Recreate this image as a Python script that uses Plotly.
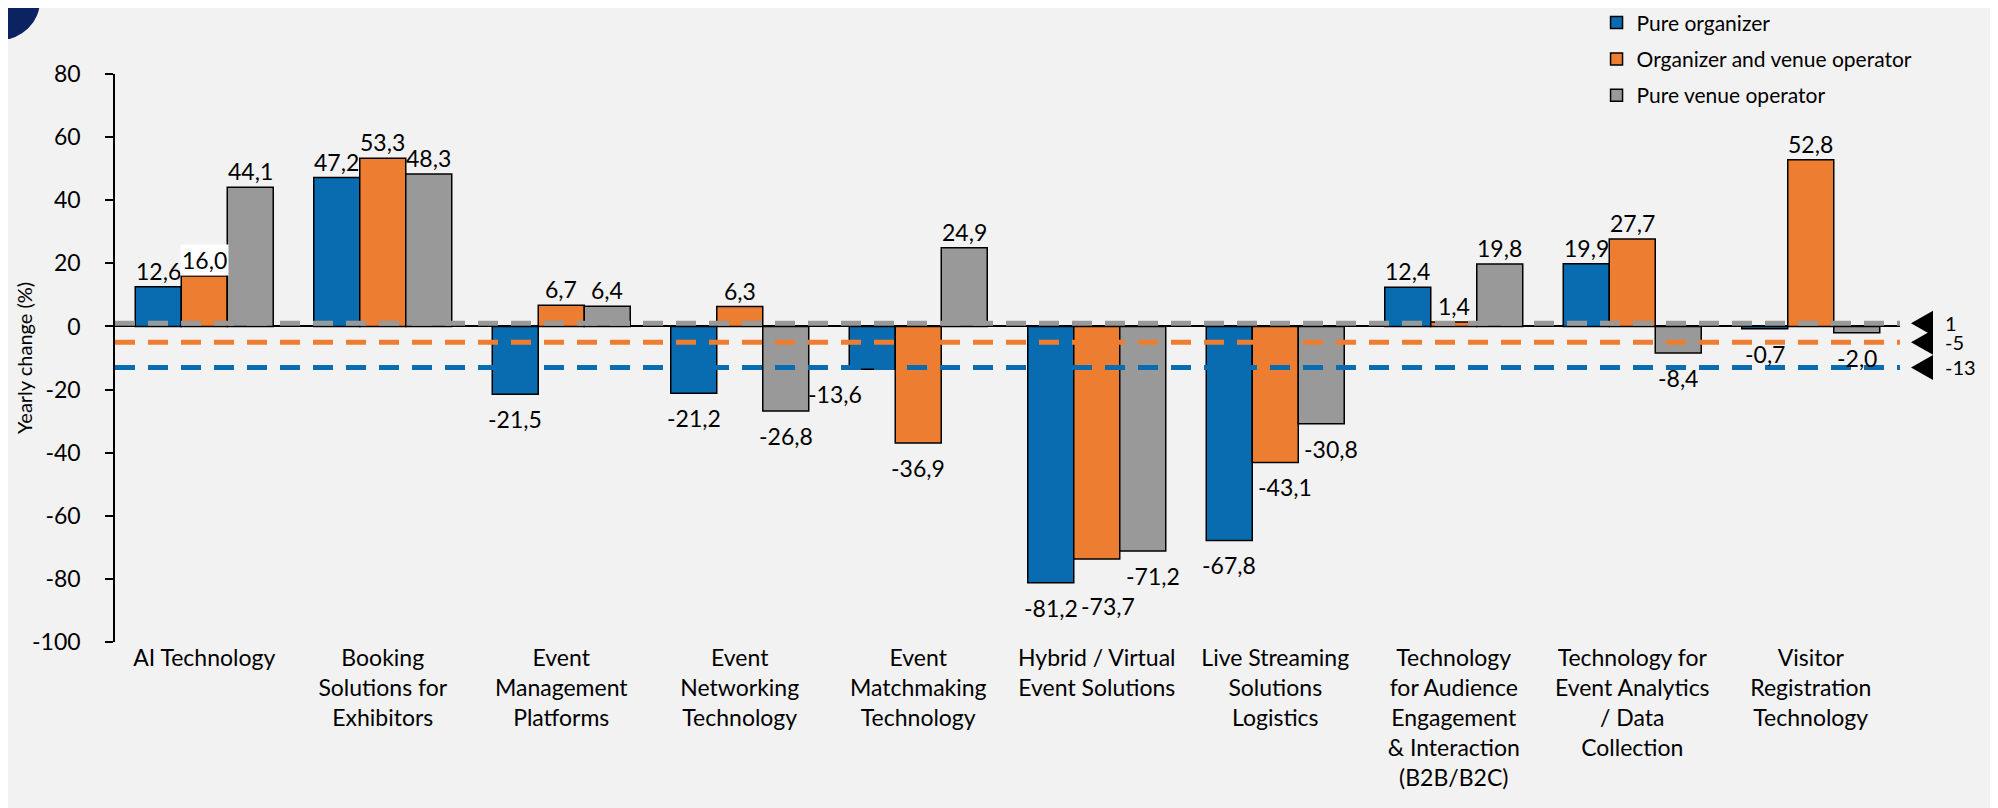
import plotly.graph_objects as go

# ---------------- data ----------------
categories = [
    "AI Technology",
    "Booking<br>Solutions for<br>Exhibitors",
    "Event<br>Management<br>Platforms",
    "Event<br>Networking<br>Technology",
    "Event<br>Matchmaking<br>Technology",
    "Hybrid / Virtual<br>Event Solutions",
    "Live Streaming<br>Solutions<br>Logistics",
    "Technology<br>for Audience<br>Engagement<br>& Interaction<br>(B2B/B2C)",
    "Technology for<br>Event Analytics<br>/ Data<br>Collection",
    "Visitor<br>Registration<br>Technology",
]
series_names = ["Pure organizer", "Organizer and venue operator", "Pure venue operator"]
pure_organizer = [12.6, 47.2, -21.5, -21.2, -13.6, -81.2, -67.8, 12.4, 19.9, -0.7]
organizer_venue = [16.0, 53.3, 6.7, 6.3, -36.9, -73.7, -43.1, 1.4, 27.7, 52.8]
pure_venue = [44.1, 48.3, 6.4, -26.8, 24.9, -71.2, -30.8, 19.8, -8.4, -2.0]
averages = [-13, -5, 1]          # per series: organizer, organizer+venue, venue
y_ticks = [-100, -80, -60, -40, -20, 0, 20, 40, 60, 80]
y_tick_labels = ["-100", "-80", "-60", "-40", "-20", "0", "20", "40", "60", "80"]

# ---------------- style ----------------
colors = ["#0A6CB0", "#ED7D31", "#999999"]
navy = "#0B2461"
bg = "#F2F2F2"
font_family = "Lato, 'Noto Sans', sans-serif"
bargap = 0.227
# (series index, category index) -> (xshift px, yshift px) label nudges
label_nudges = {(0, 4): (-37, 0), (1, 5): (11, -22), (2, 5): (10, 0),
                (1, 6): (10, 0), (2, 6): (10, 0)}
white_box_labels = {(1, 0)}


def fmt(v):
    return f"{v:.1f}".replace(".", ",")


fig = go.Figure()
x = list(range(len(categories)))
all_series = [pure_organizer, organizer_venue, pure_venue]
n_series = len(all_series)
bar_w = (1 - bargap) / n_series

for i, (name, vals, col) in enumerate(zip(series_names, all_series, colors)):
    fig.add_trace(go.Bar(
        x=x, y=vals, name=name, legendgroup=name,
        marker=dict(color=col, line=dict(color="black", width=1.5)),
        hoverinfo="x+y",
    ))
    # value labels
    for j, v in enumerate(vals):
        dx, dy = label_nudges.get((i, j), (0, 0))
        fig.add_annotation(
            x=j + (i - (n_series - 1) / 2) * bar_w, y=v, xref="x", yref="y",
            text=fmt(v), showarrow=False, xanchor="center", yanchor="middle",
            xshift=dx, yshift=(16 if v >= 0 else -25) + dy,
            bgcolor="white" if (i, j) in white_box_labels else None,
            borderpad=1,
            font=dict(size=23, color="black", family=font_family),
        )

# average dashed lines
for avg, col in zip(averages, colors):
    fig.add_shape(type="line", xref="paper", yref="y", x0=0, x1=1, y0=avg, y1=avg,
                  line=dict(color=col, width=5, dash="20px,13px"), layer="above")

# triangle markers + labels for averages on the right
for avg in averages:
    fig.add_shape(type="path", xref="paper", yref="y",
                  xsizemode="pixel", ysizemode="pixel", xanchor=1, yanchor=avg,
                  path="M 11 0 L 33 12.5 L 33 -12.5 Z",
                  fillcolor="black", line=dict(width=0), layer="above")
    fig.add_annotation(x=1, y=avg, xref="paper", yref="y", xshift=43,
                       text=str(avg), showarrow=False, xanchor="left", yanchor="middle",
                       font=dict(size=20, color="black", family=font_family))

# y-axis title
fig.add_annotation(
    text="Yearly change (%)", xref="paper", yref="paper", x=-0.051, y=0.5,
    textangle=-90, showarrow=False, xanchor="center", yanchor="middle",
    font=dict(size=20, color="black", family=font_family),
)

# decorative frame elements
fig.add_shape(type="circle", xref="paper", yref="paper",
              x0=-0.087, x1=-0.042, y0=1.06, y1=1.20,
              fillcolor=navy, line=dict(width=0), layer="above")
fig.add_shape(type="line", xref="paper", yref="paper",
              x0=1.0546, x1=1.0546, y0=-0.32, y1=1.2,
              line=dict(color=navy, width=5))
fig.add_shape(type="line", xref="paper", yref="paper",
              x0=-0.07, x1=1.0546, y0=-0.3037, y1=-0.3037,
              line=dict(color=navy, width=4))

fig.update_layout(
    width=1998, height=808,
    margin=dict(l=107, r=106, t=66, b=174, autoexpand=False),
    paper_bgcolor=bg, plot_bgcolor=bg,
    font=dict(family=font_family, color="black"),
    barmode="group", bargap=bargap, bargroupgap=0,
    showlegend=True,
    legend=dict(
        x=0.83, y=1.126, xanchor="left", yanchor="top",
        font=dict(size=21, color="black", family=font_family),
        bgcolor="rgba(0,0,0,0)", tracegroupgap=6, traceorder="grouped",
    ),
    xaxis=dict(
        range=[-0.5, 9.5], tickmode="array", tickvals=x, ticktext=categories,
        showgrid=False, zeroline=False, showline=False, ticks="",
        tickfont=dict(size=23, color="black", family=font_family),
        tickangle=0, automargin=False,
    ),
    yaxis=dict(
        range=[-100, 80], tickmode="array", tickvals=y_ticks, ticktext=y_tick_labels,
        showgrid=False, zeroline=True, zerolinecolor="black", zerolinewidth=1.5,
        showline=True, linecolor="black", linewidth=1.5,
        ticks="outside", ticklen=8, tickwidth=1.5, tickcolor="black",
        tickfont=dict(size=23, color="black", family=font_family),
        ticklabelstandoff=20, automargin=False,
    ),
)

fig.write_html("out.html")
